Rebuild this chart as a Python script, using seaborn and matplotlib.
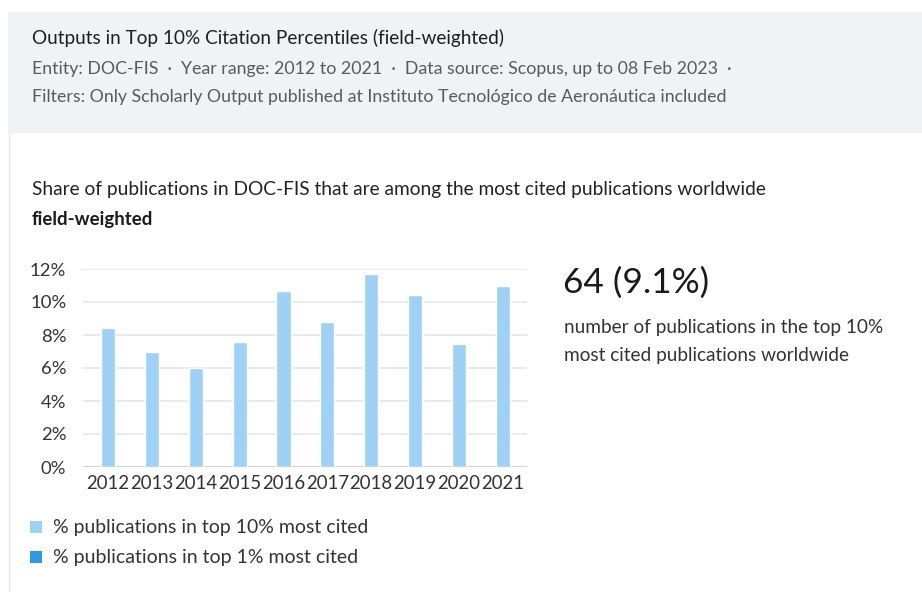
import matplotlib
matplotlib.use("Agg")
import matplotlib.pyplot as plt
from matplotlib.patches import Rectangle
from matplotlib.lines import Line2D
import seaborn as sns
import pandas as pd

years = ["2012", "2013", "2014", "2015", "2016", "2017", "2018", "2019", "2020", "2021"]
top10_share = [8.45, 7.0, 6.0, 7.55, 10.65, 8.8, 11.7, 10.45, 7.45, 11.0]
y_ticks = [0, 2, 4, 6, 8, 10, 12]

header_title = "Outputs in Top 10% Citation Percentiles (field-weighted)"
header_line2 = "Entity: DOC-FIS  \u00b7  Year range: 2012 to 2021  \u00b7  Data source: Scopus, up to 08 Feb 2023  \u00b7"
header_line3 = "Filters: Only Scholarly Output published at Instituto Tecnol\u00f3gico de Aeron\u00e1utica included"
chart_title = "Share of publications in DOC-FIS that are among the most cited publications worldwide"
chart_subtitle = "field-weighted"
big_number = "64 (9.1%)"
big_caption1 = "number of publications in the top 10%"
big_caption2 = "most cited publications worldwide"
legend_labels = ["% publications in top 10% most cited", "% publications in top 1% most cited"]

LIGHT = "#9dd1f5"
DARK = "#2b9be6"

sns.set_theme(style="white")
plt.rcParams["font.family"] = ["Lato", "DejaVu Sans"]

W, H = 922, 592
fig = plt.figure(figsize=(W / 100, H / 100), dpi=100)
fig.patch.set_facecolor("white")


def fx(px):
    return px / W


def fy(py):
    return 1 - py / H


# header band and left border
fig.patches.append(Rectangle((fx(8), fy(133)), fx(W - 8), (133 - 12) / H,
                             transform=fig.transFigure, facecolor="#f0f2f5",
                             edgecolor="none", zorder=0))
fig.lines.append(Line2D([fx(8.5), fx(8.5)], [fy(133), 0], transform=fig.transFigure,
                        color="#e4e6e9", lw=1))

renderer = fig.canvas.get_renderer()


def fit_text(x0, x1, yc, s, color, weight="normal", size=12):
    t = fig.text(fx(x0), fy(yc), s, ha="left", va="center", color=color,
                 fontsize=size, fontweight=weight)
    w = t.get_window_extent(renderer).width
    t.set_fontsize(size * (x1 - x0) / w)
    return t


fit_text(32, 505, 38, header_title, "#1f1f1f")
fit_text(32, 727, 69, header_line2, "#5a5a5a")
fit_text(32, 726, 97, header_line3, "#5a5a5a")
fit_text(32, 764, 189, chart_title, "#222222")
fit_text(32, 153, 220, chart_subtitle, "#1a1a1a", weight="bold")

fit_text(563, 708, 283, big_number, "#1a1a1a")
fit_text(564, 884, 328, big_caption1, "#333333")
fit_text(564, 849, 356, big_caption2, "#333333")

# legend
for i, (lab, col) in enumerate(zip(legend_labels, [LIGHT, DARK])):
    yc = 527 + i * 30
    fig.patches.append(Rectangle((fx(30), fy(yc + 6)), fx(12), 12 / H,
                                 transform=fig.transFigure, facecolor=col,
                                 edgecolor="none"))
    fit_text(53, 367 if i == 0 else 357, yc, lab, "#333333")

# chart
ax = fig.add_axes([fx(83), fy(467), fx(527 - 83), (467 - 269) / H])
df = pd.DataFrame({"year": years, "share": top10_share})
sns.barplot(data=df, x="year", y="share", color=LIGHT, saturation=1,
            width=0.32, ax=ax, zorder=3)
ax.set_xlim(-0.57, 9.55)
ax.set_ylim(0, 12)
ax.set_yticks(y_ticks)
ax.set_yticklabels([f"{v}%" for v in y_ticks])
ax.set_xlabel("")
ax.set_ylabel("")
for sp in ax.spines.values():
    sp.set_visible(False)
ax.grid(axis="y", color="#e6e6e6", lw=1.2, zorder=0)
ax.set_axisbelow(True)
ax.tick_params(axis="both", length=0, colors="#333333")
ax.tick_params(axis="y", labelsize=12.5, pad=12)
ax.tick_params(axis="x", labelsize=12.5, pad=6)
ax.axhline(0, color="#d0d0d0", lw=1.2, zorder=1)

fig.canvas.draw()
# fit tick label sizes
xl = ax.get_xticklabels()[0]
w = xl.get_window_extent(renderer).width
ax.tick_params(axis="x", labelsize=12.5 * 43 / w)
yl = ax.get_yticklabels()[5]
w = yl.get_window_extent(renderer).width
ax.tick_params(axis="y", labelsize=12.5 * 36 / w)

fig.savefig("out.png", dpi=100, facecolor="white")
